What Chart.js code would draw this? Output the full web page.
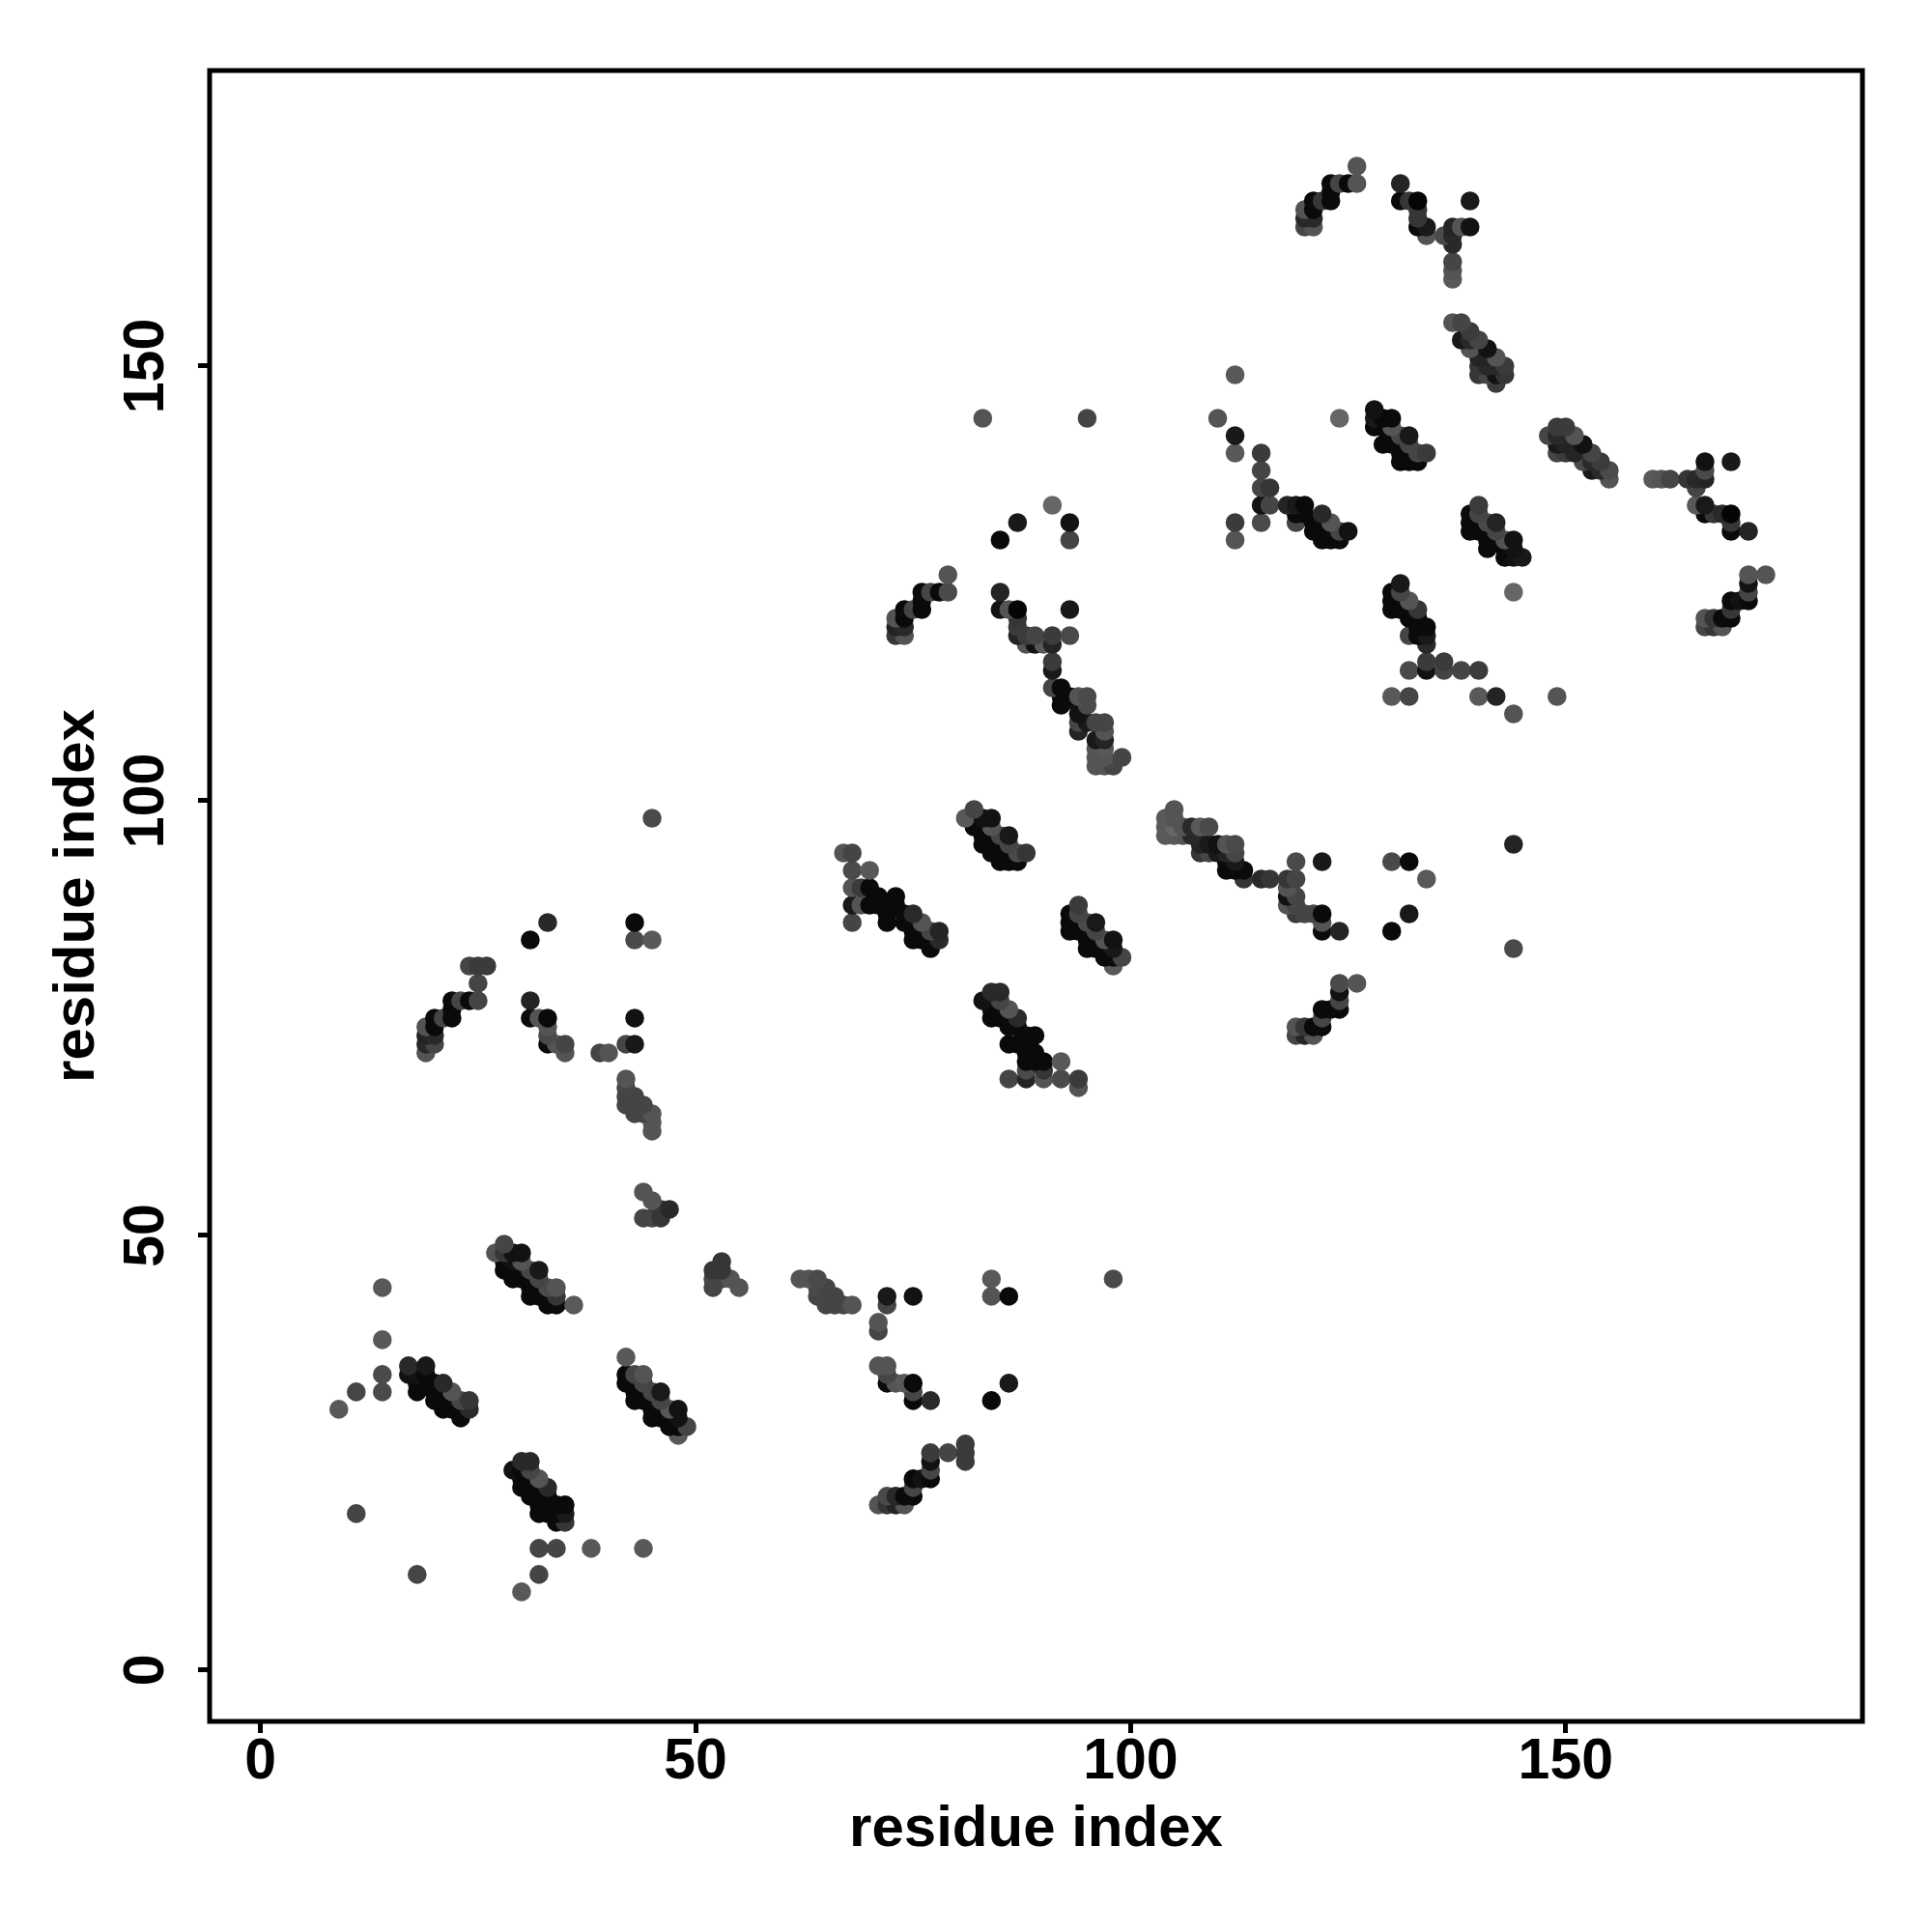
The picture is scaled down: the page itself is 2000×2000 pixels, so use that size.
<!DOCTYPE html>
<html>
<head>
<meta charset="utf-8">
<script src="https://cdn.jsdelivr.net/npm/chart.js@4"></script>
<style>
  html, body { margin: 0; padding: 0; background: #fff; }
  canvas { display: block; }
</style>
</head>
<body>
<canvas id="myChart" width="2000" height="2000"></canvas>
<script>
// each row is [residue x, residue y, contact score in %]
const lowScattered = [[9,30,65],[11,32,73],[14,32,71],[14,34,71],[14,38,65],[14,44,65],[11,18,73],[18,11,73],[32,11,73],[30,9,65],[32,14,73],[34,14,73],[38,14,65],[44,14,65]];
const strandA = [[17,35,84],[17,34,93],[18,34,93],[18,33,96],[18,32,96],[19,35,90],[19,34,96],[19,33,96],[20,33,96],[20,32,96],[20,31,96],[21,33,84],[21,32,96],[21,31,96],[21,30,96],[22,32,67],[22,31,96],[22,30,96],[23,31,73],[23,30,96],[23,29,96],[24,31,79],[24,30,84]];
const strandB = [[28,47,96],[28,46,96],[29,47,93],[29,46,96],[29,45,96],[30,46,96],[30,45,96],[31,45,96],[31,44,96],[31,43,96],[32,44,96],[32,43,96],[33,43,96],[33,42,96],[34,42,96],[27,48,67],[28,48,79],[28,49,73],[29,48,93],[30,48,93],[30,47,67],[31,46,73],[32,46,90],[32,45,73],[33,44,71],[34,44,67],[34,43,79],[36,42,65]];
const strandC = [[42,36,65],[42,34,96],[42,33,96],[43,34,73],[43,33,96],[43,32,96],[43,31,96],[44,34,67],[44,33,73],[44,32,96],[44,31,96],[45,32,73],[45,31,96],[45,30,96],[45,29,96],[46,32,90],[46,31,73],[46,30,96],[46,29,96],[47,30,65],[47,29,96],[47,28,96],[48,30,93],[48,29,93],[48,28,96],[48,27,65],[49,28,73]];
const strandD = [[29,23,93],[30,24,84],[30,23,96],[30,22,96],[30,21,96],[31,24,84],[31,23,73],[31,22,96],[31,21,96],[31,20,96],[32,22,67],[32,21,96],[32,20,96],[32,19,96],[32,18,96],[33,21,84],[33,20,96],[33,19,96],[33,18,96],[34,19,96],[34,18,96],[34,17,96],[35,19,96],[35,18,90],[35,17,79]];
const clusterE = [[52,44,73],[52,45,73],[52,46,79],[53,47,79],[53,46,79],[53,45,73],[54,45,67],[55,44,67]];
const clusterF = [[62,45,67],[63,45,67],[64,45,71],[64,44,71],[64,43,73],[65,44,73],[65,43,73],[65,42,73],[66,43,73],[66,42,73],[67,42,73],[68,42,67]];
const lowerIsolated = [[72,43,90],[72,42,73],[75,43,93],[71,40,67],[71,39,73],[84,45,65],[84,43,67],[86,43,96],[98,45,71],[84,31,96],[86,33,90]];
const clusterG = [[71,35,67],[72,35,67],[72,34,73],[72,33,96],[73,33,67],[74,33,65],[75,33,96],[75,32,73],[75,31,96],[77,31,84]];
const clusterH = [[81,26,77],[81,25,77],[81,24,77],[79,25,73],[77,25,77],[77,24,93],[77,23,73],[77,22,96],[76,22,93],[75,22,96],[75,21,73],[75,20,96],[74,20,96],[74,19,67],[73,20,84],[73,19,86],[72,20,71],[72,19,79],[71,19,67]];
const clusterI = [[24,81,73],[25,81,77],[26,81,77],[25,79,73],[25,77,73],[24,77,96],[23,77,73],[22,77,96],[22,76,96],[22,75,96],[21,75,73],[20,75,96],[20,74,96],[19,74,67],[20,73,84],[19,73,86],[19,72,84],[20,72,73],[19,71,67]];
const clusterJ = [[31,77,86],[31,75,96],[32,75,67],[33,75,96],[33,74,67],[33,73,71],[33,72,96],[34,72,67],[35,72,73],[35,71,67]];
const midIsolated = [[33,86,84],[31,84,96],[43,86,96],[43,84,71],[45,84,65],[39,71,73],[40,71,67],[42,72,73],[43,72,90],[43,75,93],[45,98,71]];
const clusterK = [[42,68,67],[42,67,73],[42,66,73],[42,65,73],[43,66,73],[43,65,73],[43,64,73],[44,65,73],[44,64,73],[45,64,67],[45,63,67],[45,62,67]];
const clusterL = [[44,55,67],[45,54,67],[47,53,84],[46,53,79],[46,52,79],[45,52,73],[44,52,73]];
const clusterM = [[67,94,67],[68,94,73],[68,92,71],[70,92,65],[68,90,67],[69,90,77],[68,88,90],[69,88,67],[68,86,73],[70,90,96],[71,89,96],[70,88,96],[71,88,96],[72,88,96],[72,87,96],[72,86,96],[73,89,96],[73,88,96],[74,87,96],[74,86,96],[75,87,84],[75,85,96],[75,84,96],[76,86,67],[76,85,96],[76,84,96],[77,85,73],[77,84,96],[77,83,96],[78,85,86],[78,84,84]];
const clusterN = [[81,98,65],[82,99,73],[82,97,96],[83,98,93],[83,96,96],[83,95,96],[84,98,93],[84,97,67],[84,96,96],[84,95,96],[84,94,96],[85,96,73],[85,94,96],[85,93,96],[86,96,90],[86,95,73],[86,94,96],[86,93,96],[87,94,71],[87,93,96],[88,94,79]];
const clusterO = [[94,88,77],[93,87,96],[93,86,96],[93,85,96],[94,87,73],[94,86,96],[94,85,96],[95,86,71],[95,85,96],[95,84,96],[95,83,96],[96,86,90],[96,85,73],[96,84,96],[96,83,96],[97,84,67],[97,83,96],[97,82,96],[98,84,93],[98,83,90],[98,82,96],[99,82,73],[98,81,65]];
const clusterP = [[83,77,93],[84,78,84],[85,78,84],[84,76,96],[84,75,96],[85,77,73],[85,76,96],[85,75,96],[86,76,67],[86,74,96],[86,72,96],[87,75,84],[87,74,96],[87,72,96],[88,73,96],[88,72,96],[88,71,96],[88,70,96],[88,69,71],[88,68,86],[89,73,96],[89,71,96],[89,70,96],[90,70,96],[90,69,79],[90,68,67],[92,70,65],[92,68,71],[94,68,77],[94,67,67],[86,68,73]];
const clusterQ = [[105,99,67],[104,98,65],[104,97,65],[104,96,65],[105,98,67],[105,97,60],[105,96,65],[106,97,67],[106,96,67],[107,97,84],[107,96,84],[108,97,65],[109,97,71],[108,95,86],[109,95,90],[108,94,79],[109,94,73],[110,95,93],[111,95,67],[112,95,71],[110,94,90],[111,94,86],[112,94,73],[111,93,96],[112,93,90],[111,92,96],[112,92,96],[113,92,96],[113,91,79]];
const clusterQ2 = [[115,91,84],[116,91,79],[118,91,79],[119,91,73],[119,93,71],[118,90,67],[118,89,93],[118,88,67],[119,89,73],[119,88,73],[119,87,77],[120,87,73],[121,87,73],[122,87,96],[122,86,67],[122,85,96],[124,85,86]];
const upperRightIsolated = [[122,93,90],[130,93,71],[132,93,96],[134,91,65],[132,87,90],[130,85,96],[144,95,86],[144,83,71]];
const clusterR = [[124,79,71],[126,79,67],[124,78,93],[124,77,73],[124,76,96],[123,76,96],[122,76,96],[122,75,73],[122,74,96],[121,74,96],[121,73,67],[120,74,79],[120,73,86],[119,74,67],[119,73,73]];
const upperIsolated = [[91,134,60],[87,132,90],[85,130,96],[93,132,93],[93,130,73],[83,144,67],[95,144,73],[93,122,90],[93,119,71]];
const clusterS = [[79,126,67],[79,124,71],[78,124,96],[77,124,73],[76,124,96],[76,123,96],[76,122,96],[75,122,73],[74,122,96],[74,121,96],[73,121,67],[73,120,86],[74,120,84],[73,119,79],[74,119,67]];
const clusterT = [[85,124,86],[85,122,93],[86,122,67],[87,122,98],[87,121,79],[87,120,77],[87,119,86],[88,119,77],[89,119,73],[88,118,67],[89,118,93],[90,118,65],[91,119,77],[91,118,86]];
const clusterT2 = [[91,116,77],[91,115,90],[91,113,73],[92,113,96],[92,112,96],[92,111,96],[93,112,96],[94,112,67],[95,112,71],[95,111,71],[94,111,93],[94,110,93],[94,109,73],[94,108,86],[95,109,90],[96,109,73],[97,109,73],[97,108,67],[97,107,86],[96,107,90],[96,106,67],[96,105,67],[96,104,67],[97,106,65],[97,105,67],[97,104,67],[98,104,73],[99,105,73]];
const clusterU = [[110,144,67],[112,149,65],[124,144,60],[112,142,90],[112,140,65],[115,140,77],[115,138,73],[115,136,73],[116,136,79],[115,134,93],[116,134,73],[112,132,77],[112,130,67],[115,132,71],[118,134,86],[119,134,90],[120,134,96],[119,133,96],[119,132,73],[120,133,96],[121,132,96],[121,131,96],[122,133,84],[122,131,96],[122,130,96],[123,132,67],[123,131,96],[123,130,96],[124,131,73],[124,130,96],[125,131,93]];
const clusterV = [[128,145,93],[128,144,90],[128,143,96],[129,144,96],[129,143,96],[129,141,96],[130,144,96],[130,143,67],[130,142,96],[130,141,96],[131,142,73],[131,141,96],[131,140,96],[131,139,96],[132,142,90],[132,141,73],[132,140,96],[132,139,96],[133,140,73],[133,139,96],[134,140,77]];
const clusterW = [[140,134,77],[139,133,96],[139,132,96],[139,131,96],[140,133,73],[140,132,96],[140,131,96],[141,132,71],[141,131,96],[141,130,96],[141,129,96],[142,132,86],[142,131,73],[142,130,96],[143,130,67],[143,129,96],[143,128,96],[144,130,93],[144,129,93],[144,128,93],[145,128,90]];
const clusterX = [[131,125,90],[130,124,96],[130,123,96],[130,122,96],[131,124,73],[131,123,96],[131,122,96],[132,123,67],[132,122,96],[132,121,96],[132,119,73],[133,122,79],[133,121,96],[133,120,96],[133,119,96],[134,120,96],[134,119,90],[134,118,84]];
const lowerBand = [[134,116,77],[136,116,77],[132,115,71],[134,115,93],[136,115,73],[138,115,73],[140,115,77],[130,112,65],[132,112,73],[140,112,65],[142,112,86],[144,110,67],[149,112,67],[144,124,60]];
const clusterY = [[148,142,73],[149,143,77],[150,143,77],[149,142,84],[149,141,90],[149,140,73],[150,140,77],[151,142,67],[150,141,86],[151,140,86],[152,141,93],[152,139,71],[153,140,73],[154,139,77],[153,139,84],[153,138,90],[154,138,84],[155,138,71],[155,137,67]];
const clusterZ = [[160,137,65],[161,137,67],[162,137,73],[164,137,79],[165,137,84],[166,137,86],[166,138,71],[166,139,93],[169,139,90],[165,136,73],[165,134,65],[166,134,90],[166,133,96],[167,133,79],[168,133,84],[169,133,98],[169,132,79],[169,131,96],[171,131,86]];
const clusterAA = [[171,126,67],[173,126,67],[171,125,93],[171,124,73],[171,123,96],[170,123,93],[169,123,96],[169,122,79],[169,121,96],[168,121,96],[168,120,67],[167,121,79],[167,120,79],[166,121,67],[166,120,73]];
const clusterAB = [[126,173,67],[126,171,67],[125,171,96],[124,171,73],[123,171,96],[123,170,96],[123,169,96],[122,169,79],[121,169,96],[121,168,96],[120,168,67],[120,167,84],[121,167,84],[120,166,73],[121,166,67]];
const clusterAC = [[131,171,86],[131,169,96],[132,169,79],[133,169,98],[133,168,79],[133,167,79],[133,166,96],[134,166,90],[134,165,67],[136,165,71],[137,166,86],[137,165,84],[137,164,84],[138,166,67],[139,166,93],[139,169,90],[137,162,73],[137,161,67],[137,160,65]];
const clusterAD = [[137,155,67],[138,155,73],[139,154,77],[140,153,73],[141,152,93],[142,151,67],[143,150,77],[143,149,79],[142,148,77],[140,149,79],[141,149,73],[142,149,93],[139,152,67],[138,153,90],[139,153,84],[140,151,86],[140,150,79],[141,151,86],[141,150,84],[142,150,84]];

const xTickValues = [0, 50, 100, 150];
const yTickValues = [0, 50, 100, 150];
const axisLabel = "residue index";

const allRows = [
    lowScattered, strandA, strandB, strandC, strandD, clusterE, clusterF, lowerIsolated, clusterG, clusterH,
    clusterI, clusterJ, midIsolated, clusterK, clusterL, clusterM, clusterN, clusterO, clusterP, clusterQ,
    clusterQ2, upperRightIsolated, clusterR, upperIsolated, clusterS, clusterT, clusterT2, clusterU, clusterV,
    clusterW, clusterX, lowerBand, clusterY, clusterZ, clusterAA, clusterAB, clusterAC, clusterAD
].flat();

// R painted these row by row, so higher y sits on top
const points = allRows
    .map(r => ({ x: r[0], y: r[1], score: r[2] }))
    .sort((a, b) => a.y - b.y || a.x - b.x);

function scoreColor(score) {
    const g = Math.round(255 * (1 - score / 100));
    return `rgb(${g},${g},${g})`;
}

// frame of the plot area
const framePlugin = {
    id: "frame",
    afterDatasetsDraw(chart) {
        const { ctx, chartArea: a } = chart;
        ctx.save();
        ctx.strokeStyle = "#000";
        ctx.lineWidth = 5;
        ctx.strokeRect(a.left, a.top, a.right - a.left, a.bottom - a.top);
        ctx.restore();
    }
};

const tickFont = { family: "'Liberation Sans', Arial, sans-serif", size: 59, weight: "bold" };
const titleFont = { family: "'Liberation Sans', Arial, sans-serif", size: 60, weight: "bold" };

new Chart(document.getElementById("myChart").getContext("2d"), {
    type: "scatter",
    data: {
        datasets: [{
            data: points,
            pointRadius: 9.8,
            pointBorderWidth: 0,
            pointBackgroundColor: points.map(p => scoreColor(p.score))
        }]
    },
    options: {
        responsive: false,
        animation: false,
        layout: { padding: { top: 73, right: 72, left: 0, bottom: 0 } },
        plugins: { legend: { display: false }, tooltip: { enabled: false } },
        scales: {
            x: {
                type: "linear",
                min: -5.85,
                max: 184.1,
                afterBuildTicks: axis => { axis.ticks = xTickValues.map(v => ({ value: v })); },
                afterFit: axis => { axis.height = 218; },
                border: { display: false },
                grid: { drawOnChartArea: false, drawTicks: true, tickLength: 12, tickWidth: 5, color: "#000" },
                ticks: { autoSkip: false, maxRotation: 0, padding: -5, color: "#000", font: tickFont, callback: v => String(v) },
                title: { display: true, text: axisLabel, color: "#000", font: titleFont, padding: { top: 0, bottom: 70 } }
            },
            y: {
                type: "linear",
                min: -5.9,
                max: 184,
                afterBuildTicks: axis => { axis.ticks = yTickValues.map(v => ({ value: v })); },
                afterFit: axis => { axis.width = 217; },
                border: { display: false },
                grid: { drawOnChartArea: false, drawTicks: true, tickLength: 12, tickWidth: 5, color: "#000" },
                ticks: { autoSkip: false, minRotation: 90, maxRotation: 90, crossAlign: "center", padding: 3, color: "#000", font: tickFont, callback: v => String(v) },
                title: { display: true, text: axisLabel, color: "#000", font: titleFont, padding: { top: 44, bottom: 0 } }
            }
        }
    },
    plugins: [framePlugin]
});
</script>
</body>
</html>
